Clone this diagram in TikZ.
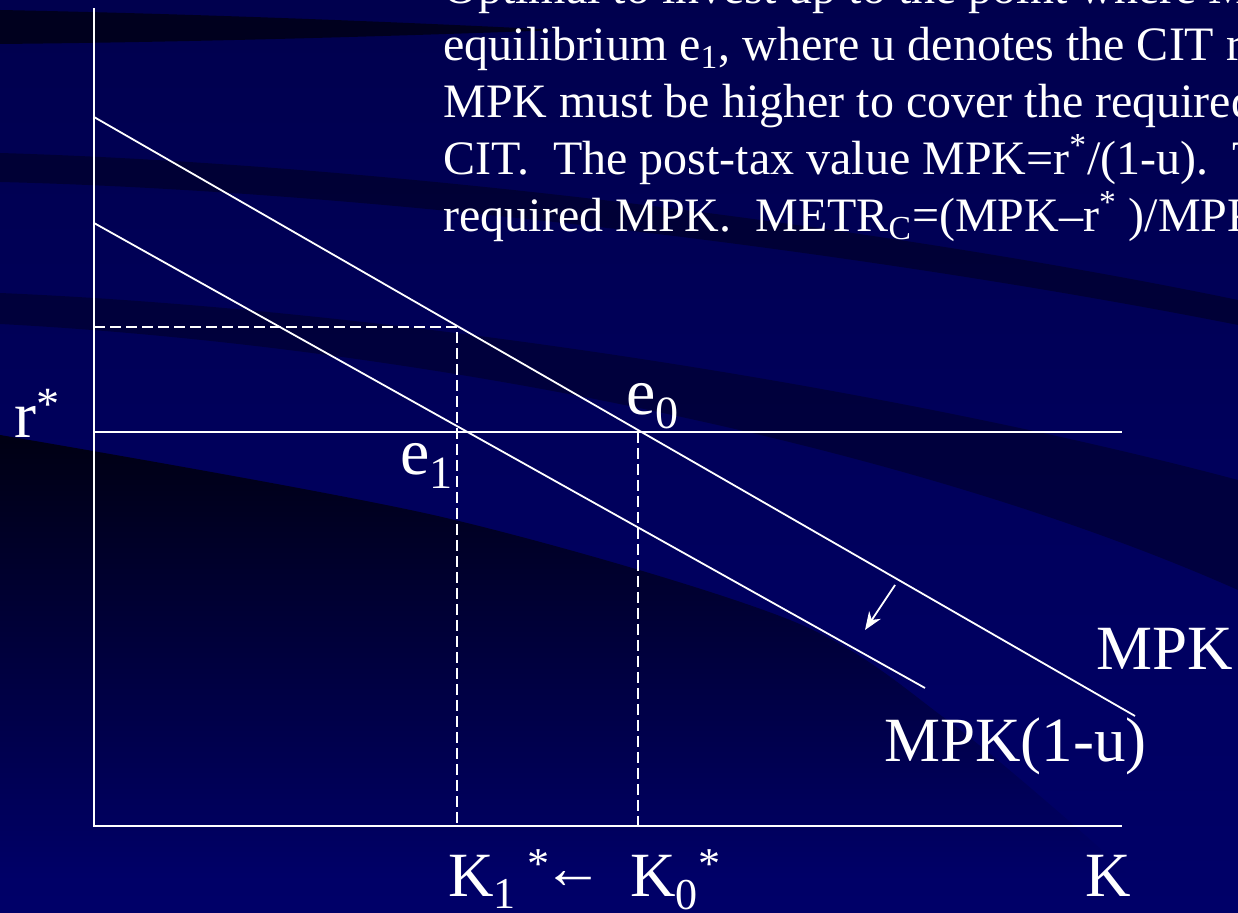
\documentclass[tikz,border=0pt]{standalone}
\usepackage{fontspec}
\setmainfont{Liberation Serif}
\usetikzlibrary{arrows.meta}

\definecolor{slidetop}{RGB}{0,0,78}
\definecolor{slidebot}{RGB}{0,0,104}
\definecolor{swoosh}{RGB}{0,0,18}

\begin{document}
\begin{tikzpicture}[x=0.5pt, y=-0.5pt, >=Stealth,
  axis/.style={white, line width=1.2pt},
  curve/.style={white, line width=0.9pt},
  guide/.style={white, line width=0.9pt, dash pattern=on 5.5pt off 2.5pt},
  lbl/.style={text=white, inner sep=0pt, anchor=base west, font=\fontsize{31.5}{36}\selectfont},
  pnt/.style={text=white, inner sep=0pt, anchor=base west, font=\fontsize{33}{38}\selectfont}]

  \useasboundingbox (0,0) rectangle (1238,913);
  \begin{scope}
    \clip (0,0) rectangle (1238,913);

    % slide background
    \shade[top color=slidetop, bottom color=slidebot] (0,0) rectangle (1238,913);
    \fill[swoosh, opacity=0.8] (0,10) .. controls (200,14) and (400,22) .. (560,30)
      .. controls (400,36) and (200,42) .. (0,44) -- cycle;
    \fill[swoosh, opacity=0.45] (0,153) .. controls (400,165) and (900,230) .. (1238,300)
      -- (1238,325) .. controls (900,258) and (400,192) .. (0,182) -- cycle;
    \fill[swoosh, opacity=0.4] (0,293) .. controls (400,310) and (900,390) .. (1238,480)
      -- (1238,590) .. controls (900,440) and (400,345) .. (0,324) -- cycle;
    \begin{scope}
      \clip plot[smooth] coordinates {(0,435) (442,517) (790,620) (947,720) (1105,853) (1160,913)}
        -- (0,913) -- cycle;
      \shade[top color=swoosh, middle color=swoosh, bottom color=slidebot] (0,430) rectangle (1238,880);
    \end{scope}

    % explanation (cut by the slide edge)
    \node[anchor=base west, text=white, inner sep=0pt, align=left,
      font=\fontsize{24}{28.5}\selectfont] (note) at (443,232)
      {Optimal to invest up to the point where MPK\\
       equilibrium e\textsubscript{1}, where u denotes the CIT rate\\
       MPK must be higher to cover the required\\
       CIT.\ \ The post-tax value MPK=r\textsuperscript{*}/(1-u).\ \ The\\
       required MPK.\ \ METR\textsubscript{C}=(MPK–r\textsuperscript{*} )/MPK};

    % axes
    \coordinate (ytop) at (94,8);
    \coordinate (O) at (94,826);
    \coordinate (xend) at (1122,826);
    \draw[axis] (ytop) -- (O) -- (xend);

    % world interest rate
    \coordinate (rL) at (94,432);
    \coordinate (rR) at (1122,432);
    \draw[axis] (rL) -- (rR);

    % MPK schedules
    \coordinate (mpkA) at (94,117);
    \coordinate (mpkB) at (1135,716);
    \coordinate (netA) at (94,223);
    \coordinate (netB) at (925,688);
    \draw[curve] (mpkA) -- (mpkB);
    \draw[curve] (netA) -- (netB);

    % dashed guides
    \coordinate (hiL) at (94,327);
    \coordinate (hi) at (457,327);
    \coordinate (k1) at (457,826);
    \coordinate (eq0) at (638,432);
    \coordinate (k0) at (638,826);
    \draw[guide] (hiL) -- (hi) -- (k1);
    \draw[guide] (eq0) -- (k0);

    % downward shift
    \coordinate (sh1) at (895,585);
    \coordinate (sh2) at (865,630);
    \draw[curve, -{Stealth[length=9pt, width=7pt]}] (sh1) -- (sh2);

    % labels
    \node[pnt] (rstar) at (14,438) {r\textsuperscript{*}};
    \node[pnt] (e0) at (626,415) {e\textsubscript{0}};
    \node[pnt] (e1) at (400,475) {e\textsubscript{1}};
    \node[lbl] (mpk) at (1096,670) {MPK};
    \node[lbl] (mpknet) at (884,762) {MPK(1-u)};
    \node[lbl] (K1) at (448,897) {K\textsubscript{1}\,\textsuperscript{*}};
    \node[lbl, font=\fontsize{30}{34}\selectfont] (left) at (543,889) {←};
    \node[lbl] (K0) at (630,897) {K\textsubscript{0}\textsuperscript{*}};
    \node[lbl] (Kax) at (1085,897) {K};
  \end{scope}

\end{tikzpicture}
\end{document}
